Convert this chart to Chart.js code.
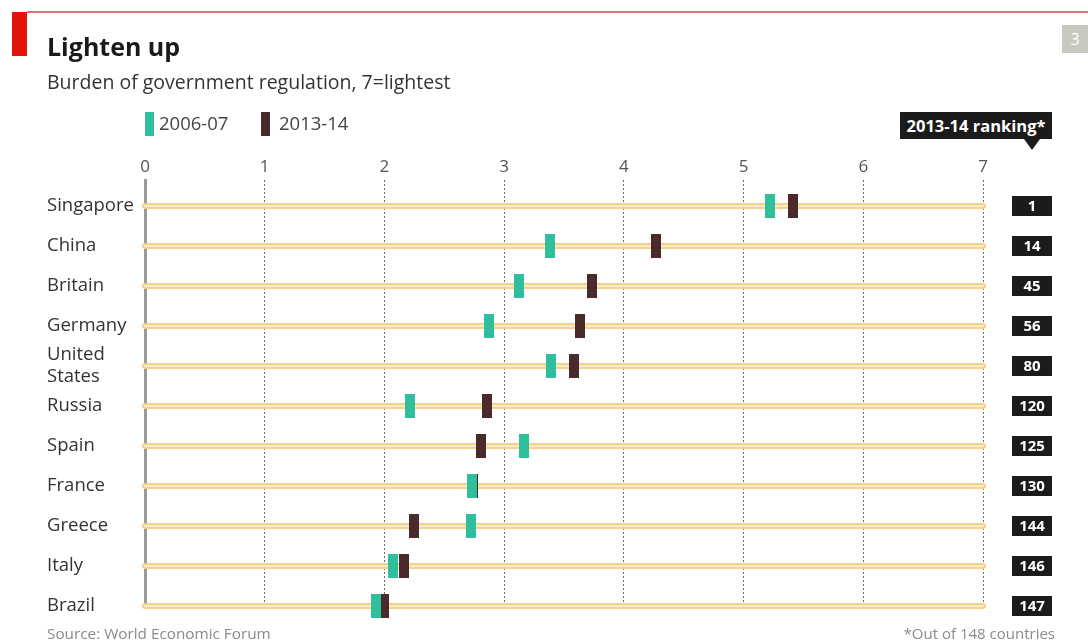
<!DOCTYPE html>
<html>
<head>
<meta charset="utf-8">
<script src="https://cdn.jsdelivr.net/npm/chart.js@4.4.1/dist/chart.umd.min.js"></script>
<style>
  html, body { margin: 0; padding: 0; background: #fff; }
  body { width: 1088px; height: 643px; position: relative; overflow: hidden; font-family: "Open Sans", sans-serif; }
  #wrap { position: absolute; left: 0; top: 0; width: 1088px; height: 643px; }
  .abs { position: absolute; white-space: nowrap; }
  #topline { left: 27px; top: 11px; width: 1061px; height: 2px; background: #d9737a; }
  #redbox { left: 12px; top: 12px; width: 15px; height: 44px; background: #e3120b; }
  #title { left: 47px; top: 29px; font-size: 25px; font-weight: 700; color: #1a1a1a; }
  #subtitle { left: 47px; top: 68px; font-size: 19.5px; color: #333; }
  #pagenum { left: 1062px; top: 25px; width: 26px; height: 28px; background: #c9c9c2; color: #fff; font-size: 16px; text-align: center; line-height: 28px; }
  .leg { top: 112px; width: 9px; height: 24px; }
  .legtxt { top: 111px; font-size: 18.5px; color: #444; line-height: 24px; }
  #rankbox { left: 900px; top: 112px; width: 152px; height: 27px; background: #1b1b1b; color: #fff; font-size: 16.5px; font-weight: 700; text-align: center; line-height: 27px; }
  #rankarrow { left: 1024px; top: 139px; width: 0; height: 0; border-left: 8px solid transparent; border-right: 8px solid transparent; border-top: 11px solid #1b1b1b; }
  #source { left: 47px; top: 623px; font-size: 15.3px; color: #8a8a8a; }
  #note { right: 33px; top: 623px; font-size: 15px; color: #8a8a8a; }
</style>
</head>
<body>
<div id="wrap"><canvas id="js-burden-chart"></canvas></div>
<div class="abs" id="topline"></div>
<div class="abs" id="redbox"></div>
<div class="abs" id="title">Lighten up</div>
<div class="abs" id="subtitle">Burden of government regulation, 7=lightest</div>
<div class="abs" id="pagenum">3</div>
<div class="abs leg" style="left:145px;background:#2fbf9d"></div>
<div class="abs legtxt" style="left:159px">2006-07</div>
<div class="abs leg" style="left:261px;background:#4b2a2c"></div>
<div class="abs legtxt" style="left:279px">2013-14</div>
<div class="abs" id="rankbox">2013-14 ranking*</div>
<div class="abs" id="rankarrow"></div>
<div class="abs" id="source">Source: World Economic Forum</div>
<div class="abs" id="note">*Out of 148 countries</div>
<script>
// data
const countries = ['Singapore', 'China', 'Britain', 'Germany', ['United', 'States'], 'Russia', 'Spain', 'France', 'Greece', 'Italy', 'Brazil'];
const score0607 = [5.22, 3.38, 3.12, 2.87, 3.39, 2.21, 3.17, 2.73, 2.72, 2.07, 1.93];
const score1314 = [5.41, 4.27, 3.73, 3.63, 3.58, 2.86, 2.81, 2.74, 2.25, 2.16, 2.00];
const ranking = ['1', '14', '45', '56', '80', '120', '125', '130', '144', '146', '147'];
const xTicks = [0, 1, 2, 3, 4, 5, 6, 7];

const teal = '#2fbf9d';
const maroon = '#4b2a2c';

function makeMarker(color) {
    let c = document.createElement('canvas');
    c.width = 10;
    c.height = 24;
    let g = c.getContext('2d');
    g.fillStyle = color;
    g.fillRect(0, 0, 10, 24);
    return c;
}

// beige tracks behind the markers, ranking boxes on the right
const tracksPlugin = {
    id: 'tracks',
    beforeDatasetsDraw(chart) {
        const {ctx, scales: {x, y}} = chart;
        ctx.save();
        ctx.lineCap = 'round';
        countries.forEach((c, i) => {
            let py = y.getPixelForValue(i);
            ctx.strokeStyle = '#f3d28f';
            ctx.lineWidth = 6;
            ctx.beginPath();
            ctx.moveTo(x.getPixelForValue(0), py);
            ctx.lineTo(x.getPixelForValue(7), py);
            ctx.stroke();
            ctx.strokeStyle = '#fcecc4';
            ctx.lineWidth = 2;
            ctx.beginPath();
            ctx.moveTo(x.getPixelForValue(0), py);
            ctx.lineTo(x.getPixelForValue(7), py);
            ctx.stroke();
        });
        ctx.restore();
    },
    afterDraw(chart) {
        const {ctx, scales: {y}} = chart;
        ctx.save();
        ctx.font = 'bold 15px "Open Sans"';
        ctx.textAlign = 'center';
        ctx.textBaseline = 'middle';
        ranking.forEach((r, i) => {
            let py = y.getPixelForValue(i);
            ctx.fillStyle = '#1b1b1b';
            ctx.fillRect(1012, py - 10, 40, 20);
            ctx.fillStyle = '#ffffff';
            ctx.fillText(r, 1032, py + 1);
        });
        ctx.restore();
    }
};

let chartBurden;
function initChartBurden() {
    let ctx = document.getElementById('js-burden-chart').getContext('2d');
    chartBurden = new Chart(ctx, {
        type: 'scatter',
        data: {
            datasets: [{
                label: '2006-07',
                data: score0607.map((v, i) => ({x: v, y: i})),
                pointStyle: makeMarker(teal),
                backgroundColor: teal,
                clip: false
            }, {
                label: '2013-14',
                data: score1314.map((v, i) => ({x: v, y: i})),
                pointStyle: makeMarker(maroon),
                backgroundColor: maroon,
                clip: false
            }]
        },
        options: {
            responsive: false,
            animation: false,
            events: [],
            layout: {padding: {left: 47, right: 105, top: 0, bottom: 37}},
            plugins: {legend: {display: false}, tooltip: {enabled: false}},
            scales: {
                x: {
                    position: 'top',
                    min: 0,
                    max: 7,
                    afterBuildTicks: s => { s.ticks = xTicks.map(v => ({value: v})); },
                    afterFit: s => { s.height = 180; },
                    grid: {
                        color: c => c.tick && c.tick.value === 0 ? 'rgba(0,0,0,0)' : '#6d6d6d',
                        lineWidth: 1,
                        drawTicks: false
                    },
                    border: {display: false, dash: [2, 2]},
                    ticks: {padding: 3, color: '#555', font: {family: 'Open Sans', size: 17}}
                },
                y: {
                    type: 'linear',
                    reverse: true,
                    min: -0.65,
                    max: 10,
                    afterBuildTicks: s => { s.ticks = countries.map((c, i) => ({value: i})); },
                    afterFit: s => { s.width = 98; },
                    grid: {display: false},
                    border: {display: true, color: '#9a9a9a', width: 3},
                    ticks: {
                        autoSkip: false,
                        crossAlign: 'far',
                        color: '#333',
                        font: {family: 'Open Sans', size: 18.5, lineHeight: 1.2},
                        callback: v => countries[v]
                    }
                }
            }
        },
        plugins: [tracksPlugin]
    });
}

let cv = document.getElementById('js-burden-chart');
cv.width = 1088;
cv.height = 643;
initChartBurden();
</script>
</body>
</html>
